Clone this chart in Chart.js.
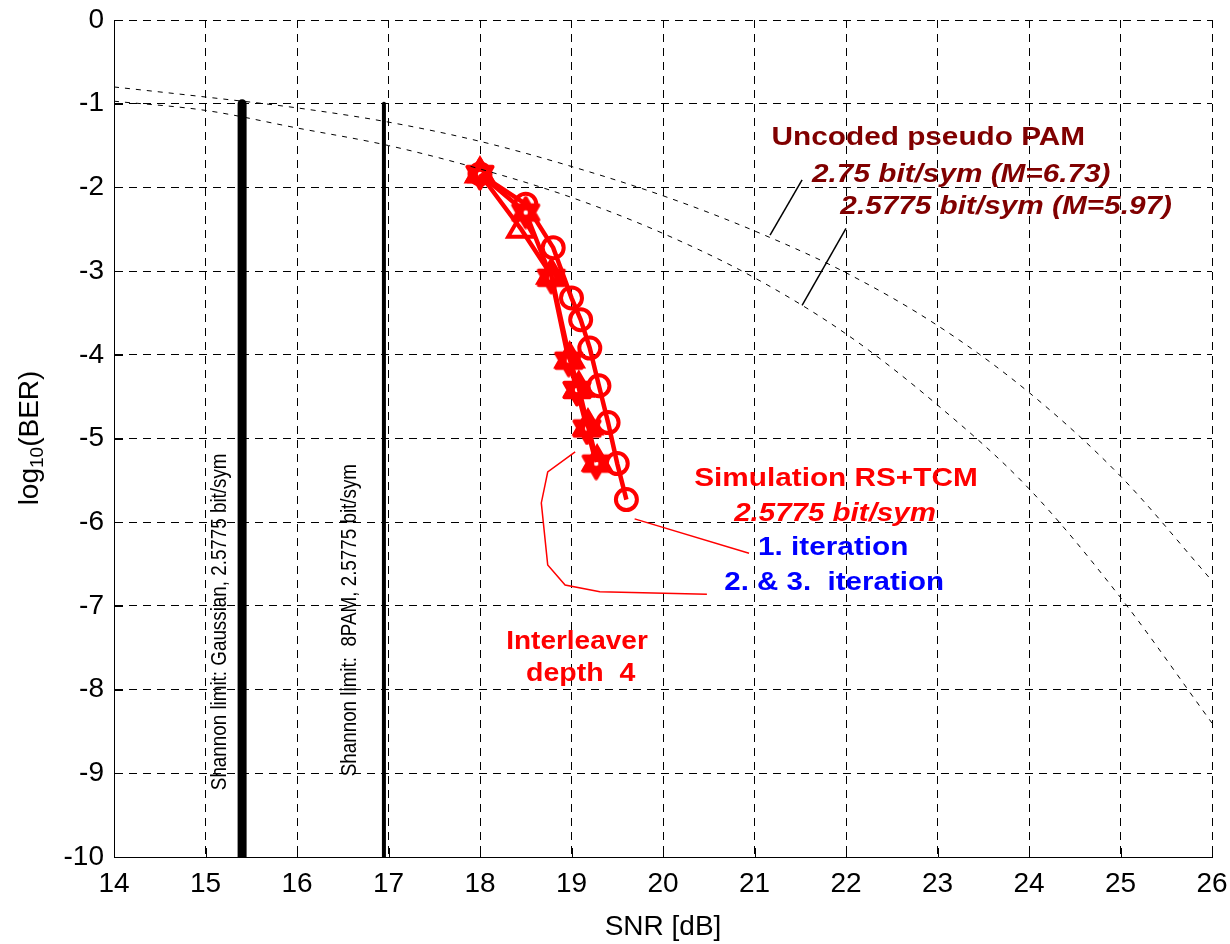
<!DOCTYPE html>
<html><head><meta charset="utf-8">
<script src="https://cdn.jsdelivr.net/npm/chart.js@4.4.0/dist/chart.umd.min.js"></script>
<style>html,body{margin:0;padding:0;background:#fff}#wrap{width:1230px;height:944px}</style>
</head><body><div id="wrap"><canvas id="c" width="1230" height="944"></canvas></div>
<script>
// ---- data ----
const snrGrid = [14, 15, 16, 17, 18, 19, 20, 21, 22, 23, 24, 25, 26];
const uncoded275 = [-0.80, -0.92, -1.05, -1.22, -1.45, -1.75, -2.10, -2.52, -3.02, -3.65, -4.45, -5.45, -6.70];
const uncoded25775 = [-0.97, -1.08, -1.29, -1.50, -1.78, -2.12, -2.55, -3.08, -3.75, -4.60, -5.60, -6.90, -8.40];

const iter1Snr = [18.0, 18.5, 18.8, 19.0, 19.1, 19.2, 19.3, 19.4, 19.5, 19.6];
const iter1Ber = [-1.84, -2.20, -2.72, -3.32, -3.58, -3.92, -4.37, -4.81, -5.30, -5.73];
const iter2Snr = [18.0, 18.45, 18.78, 18.98, 19.08, 19.18, 19.28];
const iter2Ber = [-1.84, -2.50, -3.05, -4.05, -4.40, -4.85, -5.28];
const iter3Snr = [18.0, 18.5, 18.78, 18.97, 19.06, 19.17, 19.27];
const iter3Ber = [-1.84, -2.30, -3.08, -4.07, -4.42, -4.88, -5.30];

const shannonGaussSnr = 15.4;
const shannon8PamSnr = 16.95;
const shannonBer = [-1, -10];

const xTicks = [14, 15, 16, 17, 18, 19, 20, 21, 22, 23, 24, 25, 26];
const yTicks = [0, -1, -2, -3, -4, -5, -6, -7, -8, -9, -10];

// ---- helpers ----
const pts = (xs, ys) => xs.map((x, i) => ({x: x, y: ys[i]}));
function hexagram(size, color, lw) {
  const c = document.createElement('canvas'); c.width = c.height = size;
  const g = c.getContext('2d'); const cx = size / 2, cy = size / 2;
  const R = size / 2 - lw / 2 - 0.5, r = R / Math.sqrt(3);
  g.beginPath();
  for (let i = 0; i < 12; i++) {
    const a = -Math.PI / 2 + i * Math.PI / 6; const rr = i % 2 === 0 ? R : r;
    const px = cx + rr * Math.cos(a), py = cy + rr * Math.sin(a);
    i === 0 ? g.moveTo(px, py) : g.lineTo(px, py);
  }
  g.closePath(); g.lineJoin = 'round'; g.lineWidth = lw; g.strokeStyle = color; g.fillStyle = color; g.fill(); g.stroke();
  g.beginPath(); g.arc(cx, cy, 2.2, 0, Math.PI * 2); g.fillStyle = '#fff'; g.fill();
  return c;
}
const RED = '#ff0000', DRED = '#800000', BLUE = '#0000ff';
const FF = '"Liberation Sans", Arial, sans-serif';

// annotation (pointer) lines in data coordinates
const pointerBlack1 = [{x: 21.52, y: -1.91}, {x: 21.17, y: -2.57}];
const pointerBlack2 = [{x: 22.0, y: -2.49}, {x: 21.52, y: -3.41}];
const pointerRed1 = [{x: 19.69, y: -5.96}, {x: 20.94, y: -6.37}];
const pointerRed2 = [{x: 19.04, y: -5.16}, {x: 18.74, y: -5.40}, {x: 18.67, y: -5.77}, {x: 18.74, y: -6.51}, {x: 18.93, y: -6.75}, {x: 19.31, y: -6.83}, {x: 20.48, y: -6.86}];

const labels = [
  {t: 'Uncoded pseudo PAM', x: 22.90, y: -1.41, c: DRED, f: 'bold 25px ' + FF, sx: 1.19},
  {t: '2.75 bit/sym (M=6.73)', x: 23.26, y: -1.85, c: DRED, f: 'italic bold 25px ' + FF, sx: 1.19},
  {t: '2.5775 bit/sym (M=5.97)', x: 23.75, y: -2.23, c: DRED, f: 'italic bold 25px ' + FF, sx: 1.19},
  {t: 'Simulation RS+TCM', x: 21.89, y: -5.48, c: RED, f: 'bold 25px ' + FF, sx: 1.19},
  {t: '2.5775 bit/sym', x: 21.88, y: -5.90, c: RED, f: 'italic bold 25px ' + FF, sx: 1.18},
  {t: '1. iteration', x: 21.86, y: -6.31, c: BLUE, f: 'bold 25px ' + FF, sx: 1.19},
  {t: '2. & 3.  iteration', x: 21.87, y: -6.73, c: BLUE, f: 'bold 25px ' + FF, sx: 1.18},
  {t: 'Interleaver', x: 19.06, y: -7.43, c: RED, f: 'bold 25px ' + FF, sx: 1.12},
  {t: 'depth  4', x: 19.10, y: -7.81, c: RED, f: 'bold 25px ' + FF, sx: 1.14},
];
const rotLabels = [
  {t: 'Shannon limit: Gaussian, 2.5775 bit/sym', x: 15.16, y: -7.19},
  {t: 'Shannon limit:  8PAM, 2.5775 bit/sym', x: 16.58, y: -7.17},
];

const textPlugin = {
  id: 'texts',
  afterDatasetsDraw(chart) {
    const g = chart.ctx, xs = chart.scales.x, ys = chart.scales.y, a = chart.chartArea;
    g.save();
    // inward tick marks (MATLAB style)
    g.strokeStyle = '#000'; g.lineWidth = 1; g.setLineDash([]);
    g.beginPath();
    xTicks.forEach(v => { const p = Math.round(xs.getPixelForValue(v)) + 0.5; g.moveTo(p, a.bottom); g.lineTo(p, a.bottom - 9); });
    yTicks.forEach(v => { const p = Math.round(ys.getPixelForValue(v)) + 0.5; g.moveTo(a.left, p); g.lineTo(a.left + 9, p); });
    g.stroke();
    g.textAlign = 'center'; g.textBaseline = 'middle';
    labels.forEach(l => {
      g.save(); g.translate(xs.getPixelForValue(l.x), ys.getPixelForValue(l.y)); g.scale(l.sx, 1);
      g.font = l.f; g.fillStyle = l.c; g.fillText(l.t, 0, 0); g.restore();
    });
    g.font = '22px ' + FF; g.fillStyle = '#000';
    rotLabels.forEach(l => {
      g.save(); g.translate(xs.getPixelForValue(l.x), ys.getPixelForValue(l.y)); g.scale(1, 0.855); g.rotate(-Math.PI / 2);
      g.fillText(l.t, 0, 0); g.restore();
    });
    // y axis title with subscript
    g.save(); g.translate(30, 438); g.rotate(-Math.PI / 2);
    g.textAlign = 'left'; g.textBaseline = 'middle';
    const f1 = '28px ' + FF, f2 = '19px ' + FF;
    g.font = f1; const w1 = g.measureText('log').width; const w3 = g.measureText('(BER)').width;
    g.font = f2; const w2 = g.measureText('10').width;
    let x0 = -(w1 + w2 + w3) / 2;
    g.font = f1; g.fillText('log', x0, 0);
    g.font = f2; g.fillText('10', x0 + w1, 8);
    g.font = f1; g.fillText('(BER)', x0 + w1 + w2, 0);
    g.restore();
    g.restore();
  }
};

const ds = (data, o) => Object.assign({data: data, showLine: true, pointRadius: 0, fill: false}, o);

new Chart(document.getElementById('c'), {
  type: 'scatter',
  data: {
    datasets: [
      ds(pts(snrGrid, uncoded275), {borderColor: '#000', borderWidth: 1, borderDash: [5, 6], cubicInterpolationMode: 'monotone'}),
      ds(pts(snrGrid, uncoded25775), {borderColor: '#000', borderWidth: 1, borderDash: [5, 6], cubicInterpolationMode: 'monotone'}),
      ds(shannonBer.map(y => ({x: shannonGaussSnr, y: y})), {borderColor: '#000', borderWidth: 9, borderCapStyle: 'round'}),
      ds(shannonBer.map(y => ({x: shannon8PamSnr, y: y})), {borderColor: '#000', borderWidth: 4, borderCapStyle: 'round'}),
      ds(pointerBlack1, {borderColor: '#000', borderWidth: 1.5}),
      ds(pointerBlack2, {borderColor: '#000', borderWidth: 1.5}),
      ds(pointerRed1, {borderColor: RED, borderWidth: 1.5}),
      ds(pointerRed2, {borderColor: RED, borderWidth: 1.5}),
      ds(pts(iter2Snr, iter2Ber), {borderColor: RED, borderWidth: 4.5, pointStyle: 'triangle', pointRadius: 15, pointBorderWidth: 4, pointBackgroundColor: 'rgba(0,0,0,0)', pointBorderColor: RED}),
      ds(pts(iter3Snr, iter3Ber), {borderColor: RED, borderWidth: 4.5, pointStyle: hexagram(34, RED, 4), pointRadius: 17}),
      ds(pts(iter1Snr, iter1Ber), {borderColor: RED, borderWidth: 4.5, pointStyle: 'circle', pointRadius: 10.5, pointBorderWidth: 4, pointBackgroundColor: 'rgba(0,0,0,0)', pointBorderColor: RED}),
    ]
  },
  options: {
    responsive: false, animation: false,
    layout: {autoPadding: false, padding: {top: 20, right: 18, left: 0, bottom: 0}},
    plugins: {legend: {display: false}, tooltip: {enabled: false}},
    elements: {line: {tension: 0}},
    scales: {
      x: {
        type: 'linear', min: 14, max: 26,
        afterBuildTicks: s => { s.ticks = xTicks.map(v => ({value: v})); },
        afterFit: s => { s.height = 87; s.paddingLeft = 0; s.paddingRight = 0; s.paddingTop = 0; s.paddingBottom = 0; },
        ticks: {color: '#000', font: {size: 28, family: FF}, padding: 10, maxRotation: 0, autoSkip: false},
        grid: {color: '#000', lineWidth: 1, drawTicks: false, tickLength: 0},
        border: {display: true, color: '#000', width: 1, dash: [8, 6]},
        title: {display: true, text: 'SNR [dB]', color: '#000', font: {size: 28, family: FF}, padding: {top: 0, bottom: 0}}
      },
      y: {
        type: 'linear', min: -10, max: 0,
        afterBuildTicks: s => { s.ticks = yTicks.map(v => ({value: v})); },
        afterFit: s => { s.width = 114; s.paddingLeft = 0; s.paddingRight = 0; s.paddingTop = 0; s.paddingBottom = 0; },
        ticks: {color: '#000', font: {size: 28, family: FF}, padding: 10, autoSkip: false},
        grid: {color: '#000', lineWidth: 1, drawTicks: false, tickLength: 0},
        border: {display: true, color: '#000', width: 1, dash: [8, 6]}
      }
    }
  },
  plugins: [textPlugin]
});
</script>
</body></html>
